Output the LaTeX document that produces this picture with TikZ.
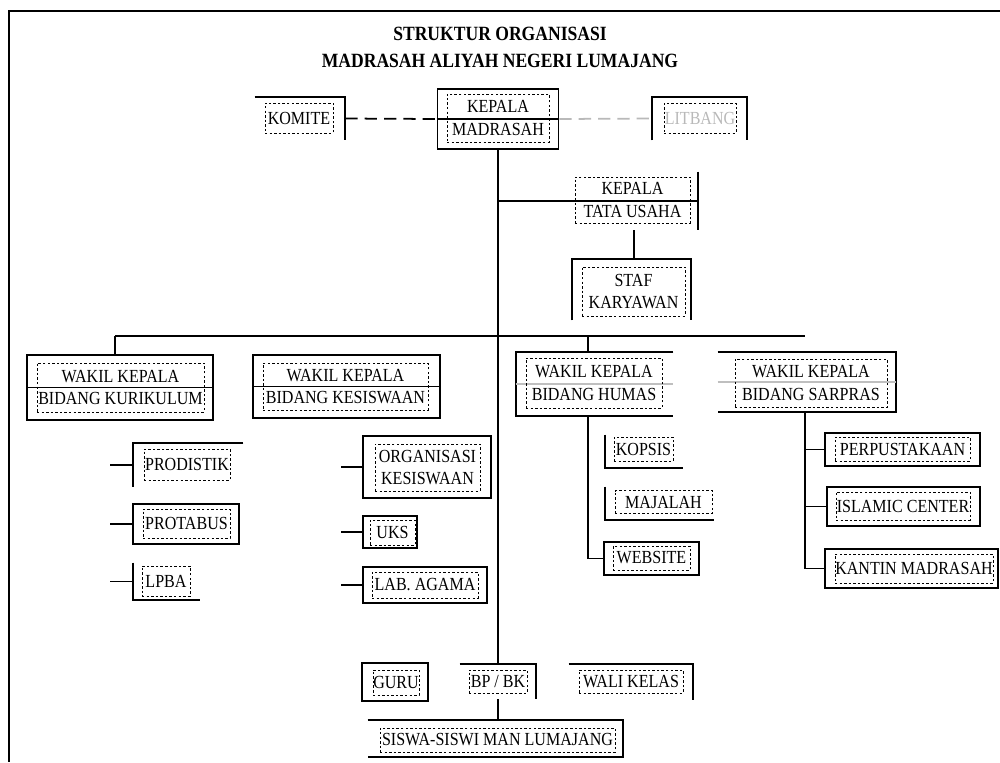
\documentclass[tikz,border=0pt]{standalone}
\usepackage{fontspec}
\setmainfont{Liberation Serif}
\newfontfamily\boxfont[FakeStretch=0.87]{Liberation Serif}
\begin{document}
\begin{tikzpicture}[x=0.02cm, y=-0.02cm]
	\tikzset{lines/.style={line width=1pt}}
	\tikzset{outbox/.style 2 args={minimum width=#1*0.02cm, minimum height=#2*0.02cm, inner sep=0pt}}
	\tikzset{inbox/.style 2 args={draw, line width=0.55pt, dash pattern=on 1.4pt off 1.2pt, minimum width=#1*0.02cm, minimum height=#2*0.02cm, inner sep=0pt, align=center, font=\boxfont\fontsize{10.5}{13}\selectfont}}
	\tikzset{title/.style={align=center, inner sep=0pt, font=\boxfont\fontsize{11.5}{15.3}\selectfont\bfseries}}
	\useasboundingbox (0,0) rectangle (1000,762);
	\draw[lines] (1000,11) -- (9,11) -- (9,762);
	\node[title] (ttl) at (500,47) {STRUKTUR ORGANISASI\\MADRASAH ALIYAH NEGERI LUMAJANG};
	% pimpinan
	\node[outbox={90}{43}] (kom) at (300,118.5) {};
	\node[outbox={121}{60}, draw, lines] (kep) at (498,119) {};
	\node[outbox={95}{43}] (lit) at (699.5,118.5) {};
	\draw[lines] (kom.north west) -- (kom.north east) -- (kom.south east);
	\draw[lines] (lit.south west) -- (lit.north west) -- (lit.north east) -- (lit.south east);
	\draw[lines] (kep.west) -- (kep.east);
	\node[inbox={68}{30}] (komT) at (299,118) {KOMITE};
	\node[inbox={102}{48}] (kepT) at (498,118) {KEPALA\\MADRASAH};
	\node[inbox={72}{30}, text=gray!55] (litT) at (700,118) {LITBANG};
	% tata usaha
	\node[outbox={128}{58}] (tu) at (634,201) {};
	\draw[lines] (tu.north east) -- (tu.south east);
	\node[inbox={115}{46}] (tuT) at (632.5,200) {KEPALA\\TATA USAHA};
	\node[outbox={119}{61}] (staf) at (631.5,289.5) {};
	\draw[lines] (staf.south west) -- (staf.north west) -- (staf.north east) -- (staf.south east);
	\node[inbox={103}{49}] (stafT) at (633.5,291.5) {STAF\\KARYAWAN};
	% wakil kepala
	\node[outbox={186}{65}, draw, lines] (kur) at (120,387.5) {};
	\node[outbox={187}{63}, draw, lines] (kes) at (346.5,386.5) {};
	\node[outbox={157}{64}] (hum) at (594.5,384) {};
	\node[outbox={178}{60}] (sar) at (807,382) {};
	\draw[lines] (hum.north east) -- (hum.north west) -- (hum.south west) -- (hum.south east);
	\draw[lines] (sar.north west) -- (sar.north east) -- (sar.south east) -- (sar.south west);
	\draw[lines] (kur.west) -- (kur.east);
	\draw[lines] (kes.west) -- (kes.east);
	\draw[lines, gray!50] (hum.west) -- (hum.east);
	\draw[lines, gray!50] (sar.west) -- (sar.east);
	\node[inbox={167}{49}] (kurT) at (120.5,387.5) {WAKIL KEPALA\\BIDANG KURIKULUM};
	\node[inbox={165}{47}] (kesT) at (345.5,386.5) {WAKIL KEPALA\\BIDANG KESISWAAN};
	\node[inbox={136}{50}] (humT) at (594,383) {WAKIL KEPALA\\BIDANG HUMAS};
	\node[inbox={152}{48}] (sarT) at (811,383) {WAKIL KEPALA\\BIDANG SARPRAS};
	% kurikulum
	\node[outbox={110}{44}] (prod) at (188,465) {};
	\node[outbox={106}{40}, draw, lines] (prot) at (186,524) {};
	\node[outbox={67}{37}] (lpba) at (166.5,581.5) {};
	\draw[lines] (prod.north east) -- (prod.north west) -- (prod.south west);
	\draw[lines] (lpba.north west) -- (lpba.south west) -- (lpba.south east);
	\node[inbox={86}{31}] (prodT) at (187,464.5) {PRODISTIK};
	\node[inbox={87}{29}] (protT) at (186.5,523.5) {PROTABUS};
	\node[inbox={48}{30}] (lpbaT) at (166,581) {LPBA};
	% kesiswaan
	\node[outbox={128}{62}, draw, lines] (org) at (427,467) {};
	\node[outbox={54}{32}, draw, lines] (uks) at (390,532) {};
	\node[outbox={124}{36}, draw, lines] (lab) at (425,585) {};
	\node[inbox={105}{47}] (orgT) at (427.5,467.5) {ORGANISASI\\KESISWAAN};
	\node[inbox={45}{25}] (uksT) at (392.5,532.5) {UKS};
	\node[inbox={106}{26}] (labT) at (425,585) {LAB. AGAMA};
	% humas
	\node[outbox={78}{33}] (kop) at (644,451.5) {};
	\node[outbox={109}{33}] (maj) at (659.5,503.5) {};
	\node[outbox={95}{33}, draw, lines] (web) at (651.5,558.5) {};
	\draw[lines] (kop.north west) -- (kop.south west) -- (kop.south east);
	\draw[lines] (maj.north west) -- (maj.south west) -- (maj.south east);
	\node[inbox={59}{24}] (kopT) at (643.5,449) {KOPSIS};
	\node[inbox={97}{23}] (majT) at (663.5,502) {MAJALAH};
	\node[inbox={77}{24}] (webT) at (651.5,558) {WEBSITE};
	% sarpras
	\node[outbox={155}{33}, draw, lines] (perp) at (902.5,449.5) {};
	\node[outbox={153}{39}, draw, lines] (isl) at (903.5,506.5) {};
	\node[outbox={173}{39}, draw, lines] (kan) at (911.5,568.5) {};
	\node[inbox={135}{24}] (perpT) at (902.5,449) {PERPUSTAKAAN};
	\node[inbox={134}{28}] (islT) at (903,506) {ISLAMIC CENTER};
	\node[inbox={158}{29}] (kanT) at (914,568.5) {KANTIN MADRASAH};
	% guru dan siswa
	\node[outbox={66}{38}, draw, lines] (guru) at (395,682) {};
	\node[outbox={76}{35}] (bpbk) at (498,681.5) {};
	\node[outbox={124}{36}] (wali) at (631,682) {};
	\node[outbox={255}{37}] (siswa) at (495.5,738.5) {};
	\draw[lines] (bpbk.north west) -- (bpbk.north east) -- (bpbk.south east);
	\draw[lines] (wali.north west) -- (wali.north east) -- (wali.south east);
	\draw[lines] (siswa.north west) -- (siswa.north east) -- (siswa.south east) -- (siswa.south west);
	\node[inbox={46}{25}] (guruT) at (396,682.5) {GURU};
	\node[inbox={58}{23}] (bpbkT) at (498,681.5) {BP / BK};
	\node[inbox={104}{23}] (waliT) at (631,681.5) {WALI KELAS};
	\node[inbox={235}{24}] (siswaT) at (497.5,740) {SISWA-SISWI MAN LUMAJANG};
	% garis
	\coordinate (busW) at (115,336);
	\coordinate (busE) at (805,336);
	\coordinate (humX) at (588,336);
	\coordinate (stubK) at (110,0);
	\coordinate (stubS) at (341,0);
	\draw[lines, dash pattern=on 7pt off 4pt] (kom.east) -- (kep.west);
	\draw[lines, gray!55, dash pattern=on 7pt off 4pt] (kep.east) -- (lit.west);
	\draw[lines] (kep.south) -- (bpbk.north);
	\draw[lines] (kep.south |- tu.east) -- (tu.east);
	\draw[lines] (tu.south) -- (tu.south |- staf.north);
	\draw[lines] (busW) -- (busE);
	\draw[lines] (busW) -- (busW |- kur.north);
	\draw[lines] (humX) -- (humX |- hum.north);
	\draw[lines] (humX |- hum.south) |- (web.west);
	\draw[lines] (busE |- sar.south) |- (kan.west);
	\draw[lines] (busE |- perp.west) -- (perp.west);
	\draw[lines] (busE |- isl.west) -- (isl.west);
	\foreach \n in {prod,prot,lpba} \draw[lines] (\n.west) -- (\n.west -| stubK);
	\foreach \n in {org,uks,lab} \draw[lines] (\n.west) -- (\n.west -| stubS);
	\draw[lines] (bpbk.south) -- (bpbk.south |- siswa.north);
\end{tikzpicture}
\end{document}
